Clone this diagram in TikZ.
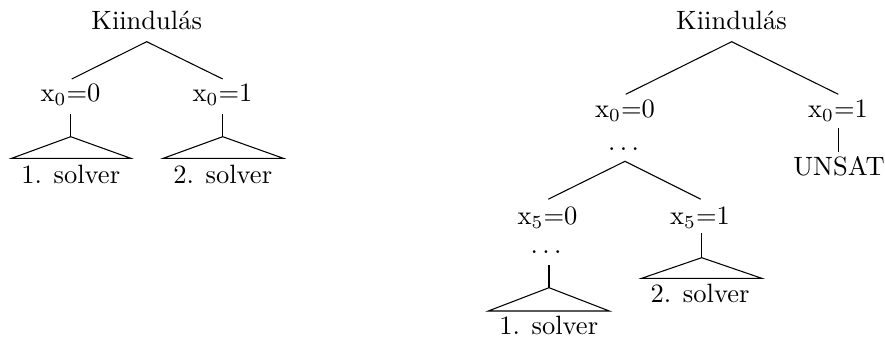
\documentclass[tikz,border=0pt]{standalone}
\usepackage{fontspec}
\begin{document}
\begin{tikzpicture}[x=0.3774pt,y=-0.3774pt,
  lbl/.style={anchor=base,inner sep=0pt},
  edgeline/.style={line width=0.4pt},
  roof/.style={line width=0.4pt}]
\useasboundingbox (0,0) rectangle (885,338);
% ---------- left tree ----------
\node[lbl] (k1) at (146.7,30) {Kiindulás};
\node[lbl] (a1) at (70.5,101.7) {x$_0$=0};
\node[lbl] (b1) at (222.5,101.7) {x$_0$=1};
\node[lbl] (s11) at (70.7,184) {1. solver};
\node[lbl] (s12) at (222.7,184) {2. solver};
\coordinate (k1b) at (146.7,41.7);
\coordinate (a1t) at (71.7,79);
\coordinate (b1t) at (222.7,79);
\coordinate (a1b) at (70.7,114);
\coordinate (a1r) at (70.7,136.7);
\coordinate (a1l) at (11.7,158.3);
\coordinate (a1rr) at (130.7,158.3);
\coordinate (b1b) at (222.7,114);
\coordinate (b1r) at (222.7,136.7);
\coordinate (b1l) at (163.3,158.3);
\coordinate (b1rr) at (283.3,158.3);
\draw[edgeline] (a1t) -- (k1b) -- (b1t);
\draw[edgeline] (a1b) -- (a1r);
\draw[roof] (a1r) -- (a1l) -- (a1rr) -- cycle;
\draw[edgeline] (b1b) -- (b1r);
\draw[roof] (b1r) -- (b1l) -- (b1rr) -- cycle;
% ---------- right tree ----------
\node[lbl] (k2) at (731.5,30) {Kiindulás};
\node[lbl] (a2) at (625,117.3) {x$_0$=0};
\node[lbl] (b2) at (838,117.3) {x$_0$=1};
\node[lbl] (d2) at (623.5,150.5) {$\ldots$};
\node[lbl] (u2) at (839,175.7) {UNSAT};
\node[lbl] (c2) at (547.5,225) {x$_5$=0};
\node[lbl] (e2) at (700,225) {x$_5$=1};
\node[lbl] (d3) at (546,253.5) {$\ldots$};
\node[lbl] (s21) at (548.7,335) {1. solver};
\node[lbl] (s22) at (700,302.7) {2. solver};
\coordinate (k2b) at (731.7,41.7);
\coordinate (a2t) at (625.7,94.3);
\coordinate (b2t) at (838.3,94.3);
\coordinate (b2b) at (838.3,128.3);
\coordinate (u2t) at (838.3,151.7);
\coordinate (d2b) at (625,161.3);
\coordinate (c2t) at (548.3,199.2);
\coordinate (e2t) at (700.7,199.2);
\coordinate (d3b) at (549,265);
\coordinate (c2r) at (549,287.7);
\coordinate (c2l) at (488.3,311);
\coordinate (c2rr) at (609.3,311);
\coordinate (e2b) at (701.7,233.3);
\coordinate (e2r) at (701.7,257.7);
\coordinate (e2l) at (641.7,278.3);
\coordinate (e2rr) at (761.7,278.3);
\draw[edgeline] (a2t) -- (k2b) -- (b2t);
\draw[edgeline] (b2b) -- (u2t);
\draw[edgeline] (c2t) -- (d2b) -- (e2t);
\draw[edgeline] (d3b) -- (c2r);
\draw[roof] (c2r) -- (c2l) -- (c2rr) -- cycle;
\draw[edgeline] (e2b) -- (e2r);
\draw[roof] (e2r) -- (e2l) -- (e2rr) -- cycle;
\end{tikzpicture}
\end{document}
